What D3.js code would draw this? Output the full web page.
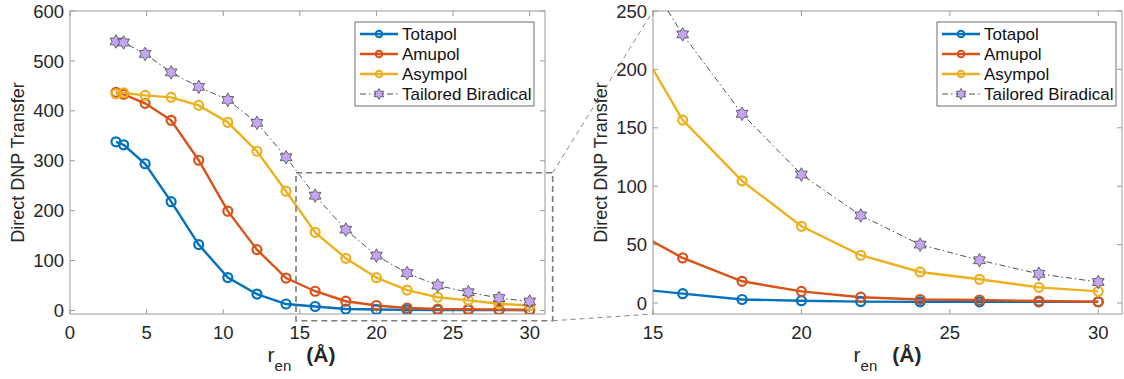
<!DOCTYPE html>
<html>
<head>
<meta charset="utf-8">
<script src="https://cdn.jsdelivr.net/npm/d3@7"></script>
<style>
  body { margin: 0; background: #fff; }
  svg { font-family: "Liberation Sans", Arial, Helvetica, sans-serif; }
</style>
</head>
<body>
<svg id="chart" width="1124" height="379"></svg>
<script>
// values
const rEn      = [3, 3.5, 4.9, 6.6, 8.4, 10.3, 12.2, 14.1, 16, 18, 20, 22, 24, 26, 28, 30];
const totapol  = [338, 332, 294, 218, 132, 66, 33, 13, 8, 3, 2, 1.2, 1, 1, 1, 1];
const amupol   = [437, 433, 415, 381, 301, 199, 122, 65, 38.6, 18.6, 10, 5, 3, 2.6, 1.7, 1.1];
const asympol  = [434, 436, 431, 427, 411, 377, 319, 239, 156.6, 104.6, 65.7, 40.9, 26.6, 20.3, 13.4, 10];
const tailored = [539, 537, 514, 477, 448, 422, 376, 307, 230, 162, 110, 75, 50, 36.6, 25, 18];

const seriesNames = ["Totapol", "Amupol", "Asympol", "Tailored Biradical"];
const seriesColors = ["#0072BD", "#D95319", "#EDB120", "#222"];

const leftXTicks = [0, 5, 10, 15, 20, 25, 30];
const leftYTicks = [0, 100, 200, 300, 400, 500, 600];
const rightXTicks = [15, 20, 25, 30];
const rightYTicks = [0, 50, 100, 150, 200, 250];

// zoom box on the left panel, in data units
const zoomBoxX = [14.75, 31.5];
const zoomBoxY = [-20.5, 276];

const svg = d3.select("#chart");
const series = [totapol, amupol, asympol, tailored];

function hexagram(R) { // six pointed star path, centred on 0,0
  const r = R / Math.sqrt(3);
  let pts = [];
  for (let k = 0; k < 12; k++) {
    const a = -Math.PI / 2 + k * Math.PI / 6;
    const rr = k % 2 == 0 ? R : r;
    pts.push([rr * Math.cos(a), rr * Math.sin(a)]);
  }
  return "M" + pts.map(p => p[0].toFixed(2) + "," + p[1].toFixed(2)).join("L") + "Z";
}

function drawMarker(g, i, x, y) {
  if (i == 3) {
    g.append("path").attr("d", hexagram(6.8))
      .attr("transform", "translate(" + x + "," + y + ")")
      .attr("fill", "#c6a5f3").attr("stroke", "#333").attr("stroke-width", 0.7);
  } else {
    g.append("circle").attr("cx", x).attr("cy", y).attr("r", 4.5)
      .attr("fill", "none").attr("stroke", seriesColors[i]).attr("stroke-width", 2.2);
  }
}

function drawPanel(p) {
  const x = d3.scaleLinear().domain(p.xDomain).range([p.left, p.right]);
  const y = d3.scaleLinear().domain(p.yDomain).range([p.bottom, p.top]);
  const g = svg.append("g");

  g.append("clipPath").attr("id", p.id + "clip")
    .append("rect").attr("x", p.left).attr("y", p.top)
    .attr("width", p.right - p.left).attr("height", p.bottom - p.top);

  // box + ticks (inward on all four sides)
  const axisColor = "#9a9a9a";
  const tl = 5;
  const ax = g.append("g").attr("stroke", axisColor).attr("stroke-width", 1);
  ax.append("rect").attr("x", p.left).attr("y", p.top)
    .attr("width", p.right - p.left).attr("height", p.bottom - p.top).attr("fill", "none");
  p.xTicks.forEach(t => {
    ax.append("line").attr("x1", x(t)).attr("x2", x(t)).attr("y1", p.bottom).attr("y2", p.bottom - tl);
    ax.append("line").attr("x1", x(t)).attr("x2", x(t)).attr("y1", p.top).attr("y2", p.top + tl);
  });
  p.yTicks.forEach(t => {
    ax.append("line").attr("x1", p.left).attr("x2", p.left + tl).attr("y1", y(t)).attr("y2", y(t));
    ax.append("line").attr("x1", p.right).attr("x2", p.right - tl).attr("y1", y(t)).attr("y2", y(t));
  });

  // tick labels
  g.selectAll(".xt").data(p.xTicks).enter().append("text")
    .attr("x", d => x(d)).attr("y", p.bottom + 25)
    .attr("text-anchor", "middle").attr("font-size", 18.5).attr("fill", "#262626")
    .text(d => d);
  g.selectAll(".yt").data(p.yTicks).enter().append("text")
    .attr("x", p.left - 6).attr("y", d => y(d)).attr("dy", "0.36em")
    .attr("text-anchor", "end").attr("font-size", 18.5).attr("fill", "#262626")
    .text(d => d);

  // axis titles
  const cy = (p.top + p.bottom) / 2;
  g.append("text").attr("transform", "translate(" + p.yLabelX + "," + cy + ") rotate(-90)")
    .attr("text-anchor", "middle").attr("dy", "0.35em")
    .attr("font-size", 18).attr("fill", "#262626").text("Direct DNP Transfer");
  const xl = g.append("text").attr("x", (p.left + p.right) / 2 + p.xLabelShift).attr("y", 362)
    .attr("text-anchor", "middle").attr("fill", "#262626").attr("font-size", 21);
  xl.append("tspan").text("r");
  xl.append("tspan").attr("font-size", 15).attr("dy", 9).text("en");
  xl.append("tspan").attr("dy", -9).attr("dx", 15).attr("font-weight", "bold").text("(Å)");

  // data
  const plot = g.append("g").attr("clip-path", "url(#" + p.id + "clip)");
  const line = d3.line().x((d, k) => x(rEn[k])).y(d => y(d));
  series.forEach((s, i) => {
    const path = plot.append("path").attr("d", line(s)).attr("fill", "none")
      .attr("stroke", seriesColors[i]);
    if (i == 3) path.attr("stroke-width", 0.8).attr("stroke-dasharray", "6,3,1.5,3");
    else path.attr("stroke-width", 2.4);
  });
  series.forEach((s, i) => {
    s.forEach((v, k) => {
      if (rEn[k] >= p.xDomain[0] && rEn[k] <= p.xDomain[1] && v <= p.yDomain[1])
        drawMarker(plot, i, x(rEn[k]), y(v));
    });
  });

  // legend
  const lg = g.append("g");
  lg.append("rect").attr("x", p.legX).attr("y", 22).attr("width", p.legW).attr("height", 84)
    .attr("fill", "#fff").attr("stroke", "#6e6e6e").attr("stroke-width", 1);
  seriesNames.forEach((name, i) => {
    const ry = 34 + i * 20;
    const l = lg.append("line").attr("x1", p.legX + 5).attr("x2", p.legX + 43)
      .attr("y1", ry).attr("y2", ry).attr("stroke", seriesColors[i]);
    if (i == 3) l.attr("stroke-width", 0.8).attr("stroke-dasharray", "6,3,1.5,3");
    else l.attr("stroke-width", 2.4);
    if (i == 3) {
      lg.append("path").attr("d", hexagram(5.5)).attr("transform", "translate(" + (p.legX + 24) + "," + ry + ")")
        .attr("fill", "#c6a5f3").attr("stroke", "#333").attr("stroke-width", 0.7);
    } else {
      lg.append("circle").attr("cx", p.legX + 24).attr("cy", ry).attr("r", 3.3)
        .attr("fill", "none").attr("stroke", seriesColors[i]).attr("stroke-width", 2);
    }
    lg.append("text").attr("x", p.legX + 47).attr("y", ry).attr("dy", "0.36em")
      .attr("font-size", 17).attr("fill", "#111").text(name);
  });

  return {x: x, y: y};
}

const L = drawPanel({id: "left", left: 70, right: 545, top: 11, bottom: 314,
  xDomain: [0, 31], yDomain: [-7, 600], xTicks: leftXTicks, yTicks: leftYTicks,
  yLabelX: 18, xLabelShift: -6, legX: 355, legW: 179});
const R = drawPanel({id: "right", left: 653, right: 1122, top: 11, bottom: 314,
  xDomain: [15, 30.8], yDomain: [-9.4, 250], xTicks: rightXTicks, yTicks: rightYTicks,
  yLabelX: 601, xLabelShift: 0, legX: 937, legW: 179});

// zoom box and connectors
const bx0 = L.x(zoomBoxX[0]), bx1 = L.x(zoomBoxX[1]);
const by0 = L.y(zoomBoxY[1]), by1 = L.y(zoomBoxY[0]);
svg.append("rect").attr("x", bx0).attr("y", by0).attr("width", bx1 - bx0).attr("height", by1 - by0)
  .attr("fill", "none").attr("stroke", "#7a7a7a").attr("stroke-width", 1.6).attr("stroke-dasharray", "6,4");
const rx = R.x(15);
[[by0, R.y(250)], [by1, R.y(-9.4)]].forEach(c => {
  svg.append("line").attr("x1", bx1).attr("y1", c[0]).attr("x2", rx).attr("y2", c[1])
    .attr("stroke", "#888").attr("stroke-width", 1).attr("stroke-dasharray", "5,4");
});
</script>
</body>
</html>
